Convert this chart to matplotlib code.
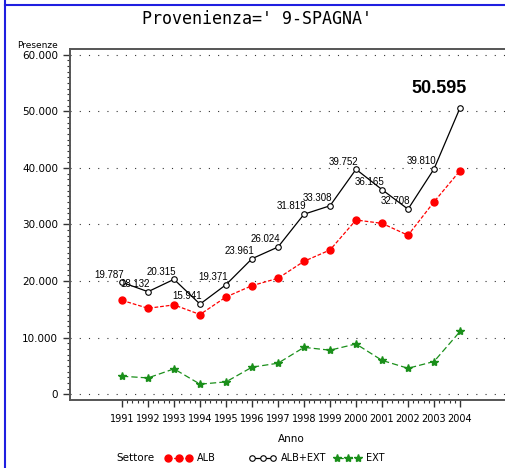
import matplotlib.pyplot as plt
from matplotlib.lines import Line2D
from matplotlib.ticker import FixedLocator, MultipleLocator, FuncFormatter

# data
anni = list(range(1991, 2005))
alb = [16600, 15200, 15800, 14100, 17200, 19200, 20500, 23500, 25500, 30800, 30200, 28100, 34000, 39500]
ext = [3200, 2900, 4500, 1800, 2200, 4800, 5500, 8300, 7800, 8900, 6000, 4600, 5800, 11100]
totale = [19787, 18132, 20315, 15941, 19371, 23961, 26024, 31819, 33308, 39752, 36165, 32708, 39810, 50595]

tick_font = ['Liberation Sans Narrow', 'DejaVu Sans']
W, H = 505, 468


def px(x, y):
    # pixel position -> figure fraction
    return x / W, 1 - y / H


def ita(v):
    return f"{v:,.0f}".replace(",", ".")


fig = plt.figure(figsize=(W / 100, H / 100), dpi=100)
ax = fig.add_axes([70 / W, 1 - 400 / H, 435 / W, 351 / H])

ax.plot(anni, alb, color='#ff0000', ls=(0, (3, 1.5)), lw=0.9,
        marker='o', ms=5, mec='#ff0000', mfc='#ff0000', label='ALB')
ax.plot(anni, totale, color='black', ls='-', lw=0.9,
        marker='o', ms=4, mfc='white', mec='black', mew=0.8, label='ALB+EXT')
ax.plot(anni, ext, color='#1a8f1a', ls=(0, (5, 2.5)), lw=0.9,
        marker='*', ms=6, mec='#1a8f1a', mfc='#1a8f1a', label='EXT')

for x, v in zip(anni[:-1], totale[:-1]):
    ax.annotate(ita(v), (x, v), xytext=(1.5, 2), textcoords='offset points',
                ha='right', va='bottom', fontsize=7, family='Liberation Sans')
ax.annotate(ita(totale[-1]), (anni[-1], totale[-1]), xytext=(5, 8),
            textcoords='offset points', ha='right', va='bottom',
            fontsize=13, fontweight='bold', family='Liberation Sans')

ax.set_xlim(1989, 2005.73)
ax.set_ylim(-1000, 61000)

ax.xaxis.set_major_locator(FixedLocator(anni))
ax.xaxis.set_minor_locator(FixedLocator(
    [a + k / 5 for a in anni[:-1] for k in range(1, 5)]))
ax.yaxis.set_major_locator(MultipleLocator(10000))
ax.yaxis.set_minor_locator(FixedLocator(range(0, 61000, 1000)))
ax.yaxis.set_major_formatter(FuncFormatter(lambda v, p: ita(v)))

ax.tick_params(axis='both', which='major', direction='out', length=5,
               width=1, color='#333333', labelsize=7.5)
ax.tick_params(axis='both', which='minor', direction='out', length=2.5,
               width=0.8, color='#333333')
ax.tick_params(axis='x', pad=5, labelsize=7)
for lab in ax.get_xticklabels() + ax.get_yticklabels():
    lab.set_family(tick_font)

ax.grid(axis='y', color='#333333', ls=(0, (1, 7.3)), lw=0.8)
ax.spines['right'].set_visible(False)
for s in ['left', 'bottom', 'top']:
    ax.spines[s].set_color('#555555')
    ax.spines[s].set_linewidth(1.4)

fig.text(*px(257, 19), "Provenienza=' 9-SPAGNA'", ha='center', va='center',
         fontsize=12, family='DejaVu Sans Mono')
fig.text(*px(37, 45), "Presenze", ha='center', va='center',
         fontsize=6.5, family=tick_font)
fig.text(*px(291, 439), "Anno", ha='center', va='center',
         fontsize=7.5, family=tick_font)
fig.text(*px(135, 458), "Settore", ha='center', va='center',
         fontsize=7.5, family=tick_font)

handles, labels = ax.get_legend_handles_labels()
for h, l, x0 in zip(handles, labels, [165, 249, 334]):
    fig.legend([h], [l], loc='center left', bbox_to_anchor=px(x0, 458),
               frameon=False, numpoints=3, handlelength=2.8, handletextpad=0.5,
               borderpad=0, borderaxespad=0, prop={'family': tick_font, 'size': 7})

# blue window border
fig.add_artist(Line2D([5 / W, 5 / W], [0, 1], color='#1f1fe0', lw=1.5))
fig.add_artist(Line2D([5 / W, 1], [1 - 5 / H] * 2, color='#1f1fe0', lw=1.5))

fig.savefig('out.png', dpi=100)
